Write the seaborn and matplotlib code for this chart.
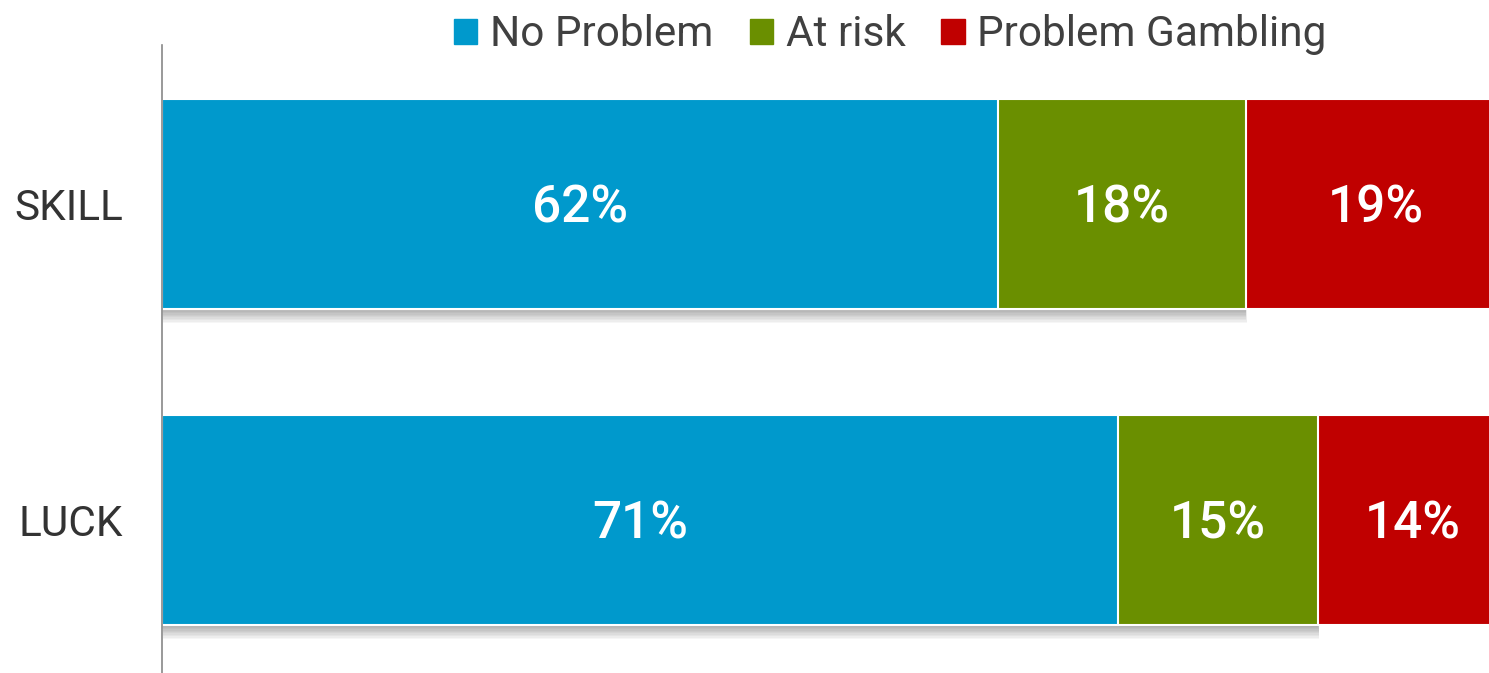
import matplotlib
matplotlib.use('Agg')
import matplotlib.pyplot as plt
import matplotlib.patheffects as pe
import numpy as np
import pandas as pd
import seaborn as sns

categories = ['SKILL', 'LUCK']
series = ['No Problem', 'At risk', 'Problem Gambling']
colors = ['#0099CC', '#6A8F00', '#C00000']
# percent values (labels show them rounded)
no_problem = [62.1, 71.0]
at_risk = [18.4, 14.9]
problem = [19.4, 14.1]

sns.set_theme(style='white')
plt.rcParams['font.family'] = ['Roboto', 'DejaVu Sans']

df = pd.DataFrame({'cat': categories, 'No Problem': no_problem,
                   'At risk': at_risk, 'Problem Gambling': problem})
df['c1'] = df['No Problem']
df['c2'] = df['c1'] + df['At risk']
df['c3'] = df['c2'] + df['Problem Gambling']

fig = plt.figure(figsize=(14.89, 6.73), dpi=100)
# plot area runs a little past the right edge of the image, as in the original
ax = fig.add_axes([162 / 1489, 0, (1508 - 162) / 1489, 1 - 45 / 673])

w = 0.665
# draw cumulative layers back to front
sns.barplot(df, x='c3', y='cat', orient='h', color=colors[2], width=w,
            edgecolor='white', linewidth=1.5, saturation=1, ax=ax)
n = len(ax.patches)
sns.barplot(df, x='c2', y='cat', orient='h', color=colors[1], width=w,
            edgecolor='white', linewidth=1.5, saturation=1, ax=ax)
# soft drop shadow under the blue+green part
shadow = [pe.SimplePatchShadow(offset=(0.8 * k / 10, -k), shadow_rgbFace='k', alpha=0.04)
          for k in np.arange(1, 11, 1.0)] + [pe.Normal()]
for p in ax.patches[n:]:
    p.set_path_effects(shadow)
sns.barplot(df, x='c1', y='cat', orient='h', color=colors[0], width=w,
            edgecolor='white', linewidth=1.5, saturation=1, ax=ax)

# value labels in segment centres
lefts = np.zeros(len(categories))
for vals in [no_problem, at_risk, problem]:
    for i, v in enumerate(vals):
        ax.text(lefts[i] + v / 2, i + 0.015, f'{round(v)}%', ha='center', va='center',
                color='white', fontsize=37, fontweight='medium')
    lefts += np.array(vals)

ax.set_xlim(0, 100)
ax.set_ylim(1.484, -0.503)
ax.set_xlabel('')
ax.set_ylabel('')
ax.set_xticks([])
ax.tick_params(axis='y', length=0, pad=28, labelsize=30.5, labelcolor='#333333')
for s in ['top', 'right', 'bottom']:
    ax.spines[s].set_visible(False)
ax.spines['left'].set_color('#888888')
ax.spines['left'].set_linewidth(1.2)

handles = [plt.Rectangle((0, 0), 1, 1, color=c) for c in colors]
fig.legend(handles, series, loc='center', bbox_to_anchor=(0.598, 0.948),
           ncol=3, frameon=False, fontsize=30.5, labelcolor='#404040',
           handlelength=0.55, handleheight=0.55, handletextpad=0.3,
           columnspacing=0.85)

fig.savefig('out.png', dpi=100)
